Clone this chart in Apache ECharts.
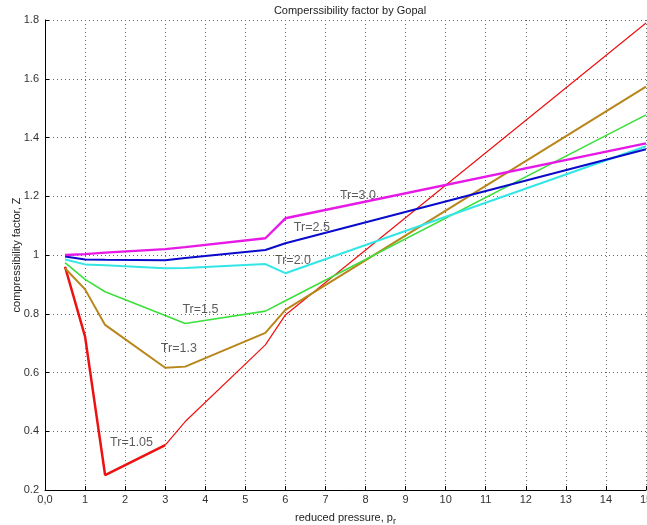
<!DOCTYPE html>
<html><head><meta charset="utf-8">
<script src="https://cdn.jsdelivr.net/npm/echarts@6/dist/echarts.min.js"></script>
<style>html,body{margin:0;padding:0;background:#fff}#c{width:647px;height:525px}</style>
</head><body><div id="c"></div>
<script>
const pr   = [0.5, 1, 1.5, 3, 3.5, 5.5, 6, 15];
const z105 = [0.96, 0.722, 0.251, 0.353, 0.433, 0.694, 0.796, 1.79];
const z13  = [0.955, 0.883, 0.762, 0.616, 0.62, 0.735, 0.813, 1.573];
const z15  = [0.974, 0.917, 0.875, 0.794, 0.767, 0.809, 0.844, 1.477];
const z20  = [0.985, 0.968, 0.965, 0.955, 0.956, 0.969, 0.938, 1.37];
const z25  = [0.995, 0.985, 0.984, 0.982, 0.99, 1.017, 1.04, 1.36];
const z30  = [1.0, 1.003, 1.008, 1.02, 1.027, 1.057, 1.125, 1.38];
const curveLabels = [
  ['Tr=1.05', 2.16, 0.36], ['Tr=1.3', 3.34, 0.68], ['Tr=1.5', 3.88, 0.816],
  ['Tr=2.0', 6.19, 0.981], ['Tr=2.5', 6.66, 1.093], ['Tr=3.0', 7.81, 1.202]
];
const xTicks = {min: 0, max: 15, interval: 1};
const yTicks = {min: 0.2, max: 1.8, interval: 0.2};

const pts = z => pr.map((x, i) => [x, z[i]]);
const FONT = '"Liberation Sans", Arial, sans-serif';
function line(name, data, color, width) {
  return {name, type: 'line', data, symbol: 'none', smooth: false,
    lineStyle: {color, width}, emphasis: {disabled: true}, animation: false};
}
const chart = echarts.init(document.getElementById('c'), null, {renderer: 'canvas'});
chart.setOption({
  backgroundColor: '#fff',
  animation: false,
  title: {text: 'Comperssibility factor by Gopal', left: 345, textAlign: 'center', top: 0,
    textStyle: {fontFamily: FONT, fontSize: 11, fontWeight: 'normal', color: '#222'}},
  grid: {left: 45, right: 1, top: 20, bottom: 35, containLabel: false, outerBoundsMode: 'none'},
  xAxis: {type: 'value', min: xTicks.min, max: xTicks.max, interval: xTicks.interval,
    name: '{a|reduced pressure, p}{s|r}', nameLocation: 'middle', nameGap: 19,
    nameTextStyle: {rich: {a: {fontFamily: FONT, fontSize: 11, color: '#222'},
      s: {fontFamily: FONT, fontSize: 9, color: '#222', padding: [8, 0, 0, 0]}}},
    axisLine: {show: true, lineStyle: {color: '#000', width: 1}},
    axisTick: {show: true, inside: true, length: 4, lineStyle: {color: '#000'}},
    axisLabel: {fontFamily: FONT, fontSize: 11, color: '#333', margin: 4,
      formatter: v => v === 0 ? '0,0' : String(v)},
    splitLine: {show: true, lineStyle: {color: '#666', type: [1, 3], width: 1}}},
  yAxis: {type: 'value', min: yTicks.min, max: yTicks.max, interval: yTicks.interval,
    name: 'compressibility factor, Z', nameLocation: 'middle', nameGap: 23, nameMoveOverlap: false,
    nameTextStyle: {fontFamily: FONT, fontSize: 11, color: '#222'},
    axisLine: {show: true, lineStyle: {color: '#000', width: 1}},
    axisTick: {show: true, inside: true, length: 4, lineStyle: {color: '#000'}},
    axisLabel: {fontFamily: FONT, fontSize: 11, color: '#333', margin: 6,
      formatter: v => Math.abs(v - 1) < 1e-9 ? '1' : v.toFixed(1)},
    splitLine: {show: true, lineStyle: {color: '#666', type: [1, 3], width: 1}}},
  series: [
    line('Tr=1.05 a', pts(z105).slice(0, 4), '#ee1111', 2.5),
    line('Tr=1.05 b', pts(z105).slice(3), '#ee1111', 1.2),
    line('Tr=1.3', pts(z13), '#b8861a', 2),
    line('Tr=1.5', pts(z15), '#3ce03c', 1.6),
    line('Tr=2.0', pts(z20), '#33e6e6', 2),
    line('Tr=2.5', pts(z25), '#0a0acc', 2),
    line('Tr=3.0', pts(z30), '#e619e6', 2.4),
    {type: 'scatter', data: curveLabels.map(l => ({name: l[0], value: [l[1], l[2]]})),
      symbolSize: 1, itemStyle: {color: 'rgba(0,0,0,0)'}, silent: true,
      label: {show: true, position: 'inside', formatter: p => p.name,
        fontFamily: FONT, fontSize: 12.5, color: '#333'}}
  ]
});
</script></body></html>
